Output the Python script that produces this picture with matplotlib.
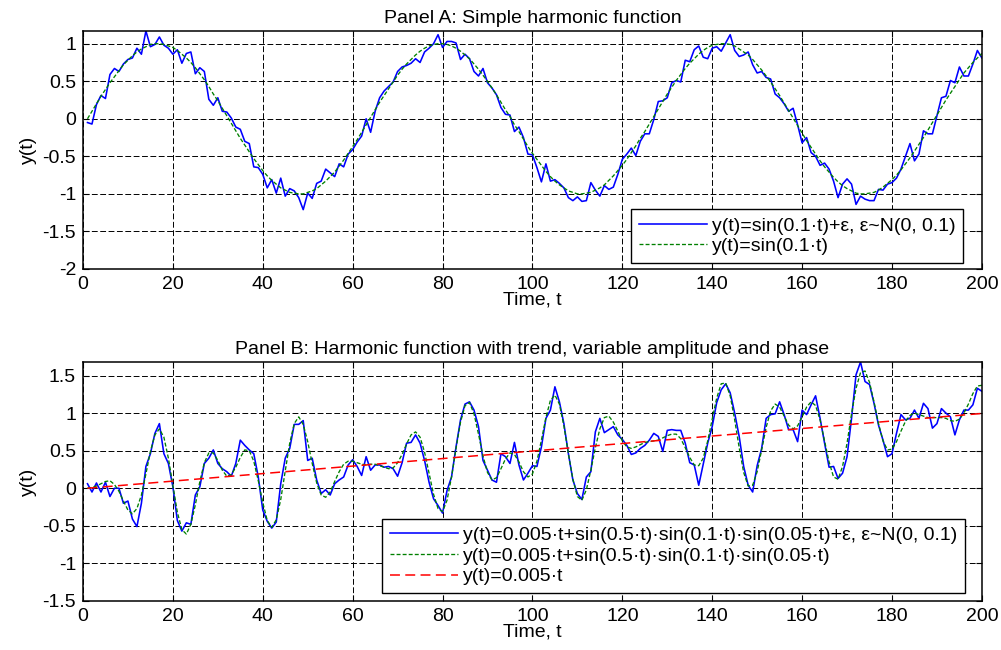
import matplotlib.pyplot as plt
import numpy as np
from matplotlib.ticker import FuncFormatter, MultipleLocator

plt.rcParams['font.family'] = ['Liberation Sans', 'DejaVu Sans']
plt.rcParams['font.size'] = 14
plt.rcParams['axes.unicode_minus'] = False

# sample index on the x axis (1..200); the curves were evaluated at t=0..199
x = np.arange(1, 201)

# Panel A: noisy sine and the clean sine
ya_noisy = [
    -0.05, -0.07, 0.19, 0.31, 0.27, 0.59, 0.67, 0.63, 0.73, 0.79,
    0.81, 0.94, 0.86, 1.17, 0.96, 0.99, 1.09, 0.98, 0.94, 0.86,
    0.92, 0.74, 0.87, 0.89, 0.60, 0.68, 0.63, 0.26, 0.18, 0.28,
    0.10, 0.09, 0.01, -0.11, -0.14, -0.30, -0.33, -0.64, -0.65, -0.74,
    -0.92, -0.81, -0.99, -0.79, -1.03, -0.93, -0.96, -1.05, -1.21, -0.99,
    -1.06, -0.86, -0.83, -0.67, -0.72, -0.77, -0.60, -0.64, -0.47, -0.41,
    -0.31, -0.23, 0.00, -0.18, 0.10, 0.28, 0.37, 0.43, 0.49, 0.63,
    0.69, 0.71, 0.74, 0.80, 0.75, 0.89, 0.94, 1.00, 1.12, 0.95,
    1.03, 1.03, 1.01, 0.79, 0.86, 0.80, 0.63, 0.57, 0.67, 0.48,
    0.41, 0.32, 0.15, 0.06, 0.05, -0.17, -0.11, -0.25, -0.47, -0.48,
    -0.65, -0.84, -0.60, -0.83, -0.81, -0.86, -0.92, -1.05, -1.09, -1.04,
    -1.10, -1.09, -0.85, -0.95, -1.03, -0.89, -0.94, -0.91, -0.74, -0.54,
    -0.47, -0.39, -0.49, -0.30, -0.20, -0.20, -0.01, 0.23, 0.24, 0.28,
    0.48, 0.51, 0.49, 0.78, 0.76, 0.92, 0.97, 0.82, 0.80, 0.94,
    0.96, 0.90, 1.01, 1.12, 0.91, 0.83, 0.85, 0.89, 0.72, 0.61,
    0.63, 0.55, 0.53, 0.33, 0.28, 0.20, 0.10, 0.14, -0.08, -0.32,
    -0.25, -0.45, -0.50, -0.62, -0.59, -0.67, -0.83, -1.05, -0.87, -0.80,
    -0.87, -1.14, -1.03, -1.07, -1.09, -1.09, -0.94, -0.95, -0.87, -0.85,
    -0.79, -0.67, -0.50, -0.33, -0.56, -0.47, -0.16, -0.20, -0.20, 0.04,
    0.28, 0.30, 0.51, 0.48, 0.69, 0.57, 0.57, 0.73, 0.91, 0.81,
]
ya_sin = [
    0.00, 0.10, 0.20, 0.30, 0.39, 0.48, 0.56, 0.64, 0.72, 0.78,
    0.84, 0.89, 0.93, 0.96, 0.99, 1.00, 1.00, 0.99, 0.97, 0.95,
    0.91, 0.86, 0.81, 0.75, 0.68, 0.60, 0.52, 0.43, 0.33, 0.24,
    0.14, 0.04, -0.06, -0.16, -0.26, -0.35, -0.44, -0.53, -0.61, -0.69,
    -0.76, -0.82, -0.87, -0.92, -0.95, -0.98, -0.99, -1.00, -1.00, -0.98,
    -0.96, -0.93, -0.88, -0.83, -0.77, -0.71, -0.63, -0.55, -0.46, -0.37,
    -0.28, -0.18, -0.08, 0.02, 0.12, 0.22, 0.31, 0.40, 0.49, 0.58,
    0.66, 0.73, 0.79, 0.85, 0.90, 0.94, 0.97, 0.99, 1.00, 1.00,
    0.99, 0.97, 0.94, 0.90, 0.85, 0.80, 0.73, 0.66, 0.58, 0.50,
    0.41, 0.32, 0.22, 0.12, 0.03, -0.08, -0.17, -0.27, -0.37, -0.46,
    -0.54, -0.62, -0.70, -0.77, -0.83, -0.88, -0.92, -0.96, -0.98, -1.00,
    -1.00, -0.99, -0.98, -0.95, -0.92, -0.88, -0.82, -0.76, -0.69, -0.62,
    -0.54, -0.45, -0.36, -0.26, -0.17, -0.07, 0.03, 0.13, 0.23, 0.33,
    0.42, 0.51, 0.59, 0.67, 0.74, 0.80, 0.86, 0.91, 0.95, 0.98,
    0.99, 1.00, 1.00, 0.99, 0.97, 0.93, 0.89, 0.85, 0.79, 0.72,
    0.65, 0.57, 0.49, 0.40, 0.31, 0.21, 0.11, 0.01, -0.09, -0.19,
    -0.29, -0.38, -0.47, -0.56, -0.64, -0.71, -0.78, -0.84, -0.89, -0.93,
    -0.96, -0.99, -1.00, -1.00, -0.99, -0.98, -0.95, -0.91, -0.86, -0.81,
    -0.75, -0.68, -0.60, -0.52, -0.43, -0.34, -0.25, -0.15, -0.05, 0.05,
    0.15, 0.25, 0.34, 0.43, 0.52, 0.61, 0.68, 0.75, 0.81, 0.87,
]

# Panel B: trend + modulated harmonic
yb_noisy = [
    0.06, -0.05, 0.07, -0.05, 0.08, -0.11, 0.00, 0.00, -0.20, -0.17,
    -0.41, -0.51, -0.20, 0.29, 0.46, 0.73, 0.86, 0.46, 0.33, 0.02,
    -0.43, -0.57, -0.46, -0.48, -0.09, 0.02, 0.33, 0.40, 0.51, 0.33,
    0.26, 0.22, 0.16, 0.33, 0.64, 0.57, 0.51, 0.46, 0.15, -0.29,
    -0.44, -0.53, -0.45, 0.06, 0.40, 0.53, 0.85, 0.85, 0.90, 0.37,
    0.40, 0.11, -0.07, -0.02, -0.09, 0.06, 0.11, 0.15, 0.31, 0.38,
    0.29, 0.17, 0.42, 0.24, 0.31, 0.31, 0.28, 0.29, 0.26, 0.16,
    0.34, 0.60, 0.61, 0.71, 0.60, 0.37, 0.08, -0.14, -0.23, -0.33,
    -0.03, 0.15, 0.55, 0.91, 1.12, 1.15, 1.04, 0.82, 0.37, 0.24,
    0.11, 0.08, 0.46, 0.42, 0.33, 0.61, 0.31, 0.11, 0.20, 0.30,
    0.29, 0.55, 0.93, 1.04, 1.35, 1.15, 0.86, 0.46, 0.11, -0.07,
    -0.15, 0.15, 0.22, 0.75, 0.93, 0.74, 0.78, 0.82, 0.71, 0.65,
    0.57, 0.45, 0.47, 0.53, 0.57, 0.64, 0.73, 0.69, 0.49, 0.77,
    0.78, 0.77, 0.77, 0.60, 0.34, 0.31, 0.04, 0.32, 0.60, 0.82,
    1.14, 1.31, 1.39, 1.27, 1.00, 0.69, 0.29, 0.04, -0.05, 0.30,
    0.53, 0.93, 0.98, 0.99, 1.15, 0.98, 0.78, 0.78, 0.62, 1.04,
    0.98, 1.11, 1.23, 0.93, 0.60, 0.28, 0.29, 0.13, 0.20, 0.42,
    0.93, 1.51, 1.68, 1.42, 1.38, 1.13, 0.84, 0.64, 0.42, 0.46,
    0.73, 0.98, 0.91, 0.93, 1.04, 0.93, 1.13, 1.06, 0.80, 0.86,
    1.06, 1.00, 0.95, 0.71, 0.91, 1.04, 1.04, 1.11, 1.33, 1.29,
]
yb_smooth = [
    0.00, 0.01, 0.03, 0.06, 0.09, 0.10, 0.05, -0.04, -0.17, -0.29,
    -0.34, -0.27, -0.09, 0.19, 0.49, 0.71, 0.79, 0.68, 0.40, 0.04,
    -0.32, -0.55, -0.61, -0.48, -0.22, 0.09, 0.34, 0.47, 0.47, 0.37,
    0.24, 0.16, 0.18, 0.28, 0.41, 0.51, 0.50, 0.36, 0.10, -0.19,
    -0.43, -0.52, -0.42, -0.15, 0.23, 0.60, 0.86, 0.95, 0.85, 0.62,
    0.33, 0.07, -0.09, -0.12, -0.05, 0.09, 0.22, 0.32, 0.36, 0.36,
    0.34, 0.32, 0.31, 0.32, 0.32, 0.30, 0.28, 0.26, 0.27, 0.34,
    0.45, 0.59, 0.71, 0.75, 0.68, 0.48, 0.20, -0.08, -0.27, -0.31,
    -0.16, 0.15, 0.53, 0.88, 1.10, 1.14, 0.99, 0.72, 0.43, 0.21,
    0.11, 0.14, 0.26, 0.39, 0.47, 0.45, 0.35, 0.22, 0.15, 0.19,
    0.36, 0.64, 0.94, 1.17, 1.24, 1.12, 0.83, 0.46, 0.12, -0.11,
    -0.16, -0.02, 0.24, 0.54, 0.79, 0.94, 0.96, 0.88, 0.76, 0.63,
    0.55, 0.53, 0.55, 0.58, 0.61, 0.62, 0.63, 0.64, 0.67, 0.70,
    0.72, 0.72, 0.66, 0.54, 0.41, 0.31, 0.30, 0.40, 0.63, 0.92,
    1.20, 1.39, 1.40, 1.23, 0.91, 0.54, 0.21, 0.03, 0.04, 0.22,
    0.51, 0.81, 1.03, 1.12, 1.08, 0.96, 0.84, 0.79, 0.83, 0.95,
    1.08, 1.15, 1.10, 0.91, 0.63, 0.35, 0.15, 0.12, 0.29, 0.60,
    0.99, 1.33, 1.54, 1.56, 1.41, 1.15, 0.86, 0.63, 0.51, 0.52,
    0.62, 0.76, 0.89, 0.97, 1.00, 0.98, 0.96, 0.94, 0.94, 0.94,
    0.94, 0.93, 0.90, 0.89, 0.92, 1.00, 1.12, 1.26, 1.36, 1.37,
]
x_trend = [1, 200]
yb_trend = [0.0, 0.995]

labels_a = ['y(t)=sin(0.1·t)+ε, ε~N(0, 0.1)', 'y(t)=sin(0.1·t)']
labels_b = ['y(t)=0.005·t+sin(0.5·t)·sin(0.1·t)·sin(0.05·t)+ε, ε~N(0, 0.1)',
            'y(t)=0.005·t+sin(0.5·t)·sin(0.1·t)·sin(0.05·t)',
            'y(t)=0.005·t']

fmt = FuncFormatter(lambda v, p: '%g' % v)


def style_axes(ax, ymin, ymax):
    ax.set_xlim(0, 200)
    ax.set_ylim(ymin, ymax)
    ax.xaxis.set_major_locator(MultipleLocator(20))
    ax.yaxis.set_major_locator(MultipleLocator(0.5))
    ax.yaxis.set_major_formatter(fmt)
    ax.xaxis.set_major_formatter(fmt)
    ax.grid(True, color='k', linestyle=(0, (6, 2.6)), linewidth=0.7)
    ax.tick_params(direction='in', top=True, right=True, length=4,
                   width=0.8, pad=5, labelsize=14)
    for s in ax.spines.values():
        s.set_linewidth(1.1)
    ax.set_xlabel('Time, t', labelpad=-1)
    ax.set_ylabel('y(t)', labelpad=4)


def add_legend(ax, anchor):
    leg = ax.legend(loc='lower right', bbox_to_anchor=anchor, fancybox=False,
                    edgecolor='k', framealpha=1, borderpad=0.4,
                    labelspacing=0.15, handlelength=3.5, handletextpad=0.25,
                    borderaxespad=0, fontsize=14)
    leg.get_frame().set_linewidth(1.0)


fig = plt.figure(figsize=(10.01, 6.5), dpi=100)

# Panel A
ax1 = fig.add_axes([0.0829, 0.5862, 0.898, 0.3662])
ax1.plot(x, ya_noisy, color=(0, 0, 1), lw=1.15, label=labels_a[0])
ax1.plot(x, ya_sin, color=(0, 0.5, 0), lw=0.95, linestyle=(0, (3, 1.6)),
         label=labels_a[1])
style_axes(ax1, -2, max(ya_noisy))
ax1.set_title('Panel A: Simple harmonic function', fontsize=14, pad=6)
add_legend(ax1, (0.979, 0.025))

# Panel B
ax2 = fig.add_axes([0.0829, 0.0754, 0.898, 0.3677])
ax2.plot(x, yb_noisy, color=(0, 0, 1), lw=1.15, label=labels_b[0])
ax2.plot(x, yb_smooth, color=(0, 0.5, 0), lw=0.95, linestyle=(0, (3, 1.6)),
         label=labels_b[1])
ax2.plot(x_trend, yb_trend, color=(1, 0, 0), lw=1.1, linestyle=(0, (6.5, 3.5)),
         label=labels_b[2])
style_axes(ax2, -1.5, max(yb_noisy))
ax2.set_title('Panel B: Harmonic function with trend, variable amplitude and phase',
              fontsize=14, pad=6)
add_legend(ax2, (0.981, 0.033))

plt.savefig('out.png', dpi=100)
